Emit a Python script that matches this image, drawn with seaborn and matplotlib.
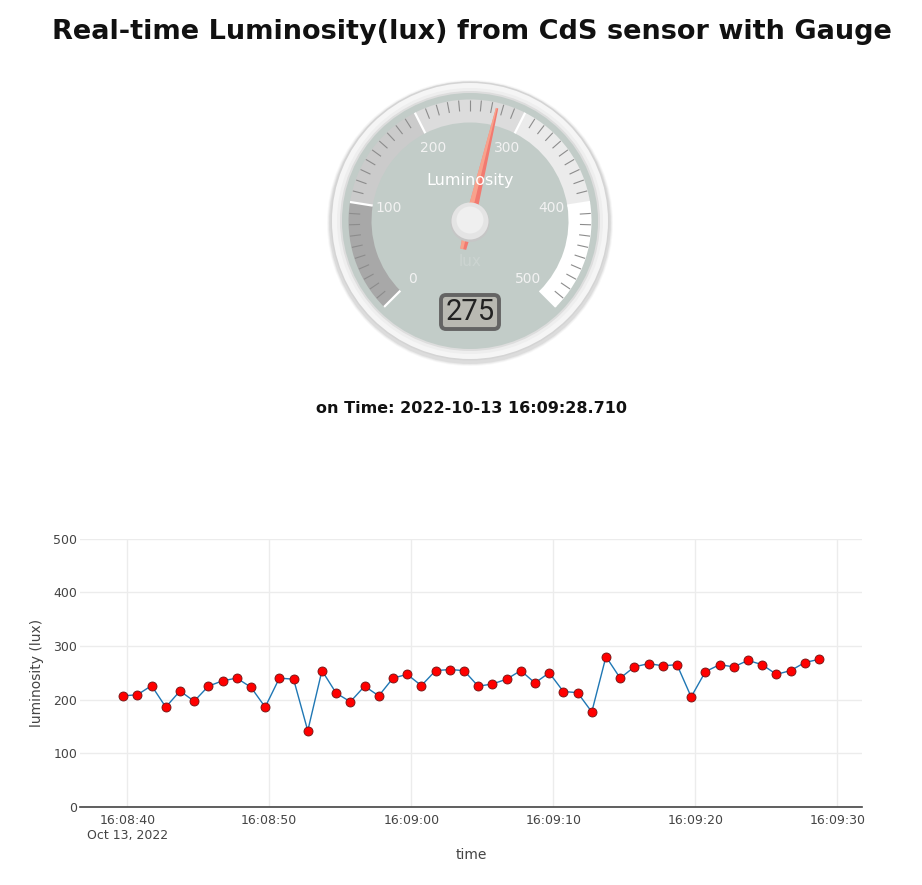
import numpy as np
import pandas as pd
import seaborn as sns
import matplotlib
matplotlib.use("Agg")
import matplotlib.pyplot as plt
from matplotlib.patches import Wedge, Circle, FancyBboxPatch, Polygon

# ---------------- data ----------------
date_str = "2022-10-13"
time_strs = [
    "16:08:39.710", "16:08:40.710", "16:08:41.710", "16:08:42.710", "16:08:43.710",
    "16:08:44.710", "16:08:45.710", "16:08:46.710", "16:08:47.710", "16:08:48.710",
    "16:08:49.710", "16:08:50.710", "16:08:51.710", "16:08:52.710", "16:08:53.710",
    "16:08:54.710", "16:08:55.710", "16:08:56.710", "16:08:57.710", "16:08:58.710",
    "16:08:59.710", "16:09:00.710", "16:09:01.710", "16:09:02.710", "16:09:03.710",
    "16:09:04.710", "16:09:05.710", "16:09:06.710", "16:09:07.710", "16:09:08.710",
    "16:09:09.710", "16:09:10.710", "16:09:11.710", "16:09:12.710", "16:09:13.710",
    "16:09:14.710", "16:09:15.710", "16:09:16.710", "16:09:17.710", "16:09:18.710",
    "16:09:19.710", "16:09:20.710", "16:09:21.710", "16:09:22.710", "16:09:23.710",
    "16:09:24.710", "16:09:25.710", "16:09:26.710", "16:09:27.710", "16:09:28.710",
]
luminosity = [
    207, 209, 226, 186, 216, 197, 225, 235, 240, 223,
    186, 240, 238, 142, 254, 212, 196, 225, 207, 240,
    247, 226, 254, 256, 254, 225, 229, 238, 254, 231,
    250, 215, 213, 177, 280, 240, 261, 267, 263, 265,
    205, 252, 265, 261, 273, 265, 247, 254, 269, 275,
]
x_tick_times = ["16:08:40", "16:08:50", "16:09:00", "16:09:10", "16:09:20", "16:09:30"]
x_tick_labels = ["16:08:40\nOct 13, 2022", "16:08:50", "16:09:00", "16:09:10", "16:09:20", "16:09:30"]
y_ticks = [0, 100, 200, 300, 400, 500]

gauge_edges = [0, 100, 200, 300, 400, 500]
gauge_band_colors = ["#a8a8a8", "#cbcbcb", "#dcdcdc", "#ebebeb", "#ffffff"]
gauge_labels = [0, 100, 200, 300, 400, 500]

title = "Real-time Luminosity(lux) from CdS sensor with Gauge"

# ---------------- figure ----------------
W, H = 922, 885
fig = plt.figure(figsize=(W / 100, H / 100), dpi=100)
fig.patch.set_facecolor("white")

def fx(px):
    return px / W

def fy(py):
    return 1 - py / H

head_font = ["DejaVu Sans"]
fig.text(fx(472), fy(32), title, ha="center", va="center", fontsize=19.5,
         fontweight="bold", family=head_font, color="#111111")

times = pd.to_datetime([f"{date_str} {t}" for t in time_strs])
last_time = times[-1].strftime("%Y-%m-%d %H:%M:%S.%f")[:-3]
fig.text(fx(471), fy(408), f"on Time: {last_time}", ha="center", va="center",
         fontsize=11.5, fontweight="bold", family=head_font, color="#111111")

# ---------------- gauge ----------------
gax = fig.add_axes([fx(320), fy(370), 300 / W, 300 / H])
gax.set_xlim(-150, 150)
gax.set_ylim(-149, 151)
gax.set_aspect("equal")
gax.axis("off")

gmin, gmax = gauge_edges[0], gauge_edges[-1]

def ang(v):
    return 225 - 270 * (v - gmin) / (gmax - gmin)

# shadow + bezel
for r, a in [(143, 0.07), (142, 0.12), (141, 0.18)]:
    gax.add_patch(Circle((0, -2), r, color="#9a9a9a", alpha=a, lw=0))
gax.add_patch(Circle((0, 0), 139.5, color="#d4d4d4", lw=0))
gax.add_patch(Circle((0, 0), 138, color="#f5f5f5", lw=0))
gax.add_patch(Circle((0, 0), 133, color="#eeeeee", lw=0))
gax.add_patch(Circle((0, 0), 130, color="#dddddd", lw=0))
gax.add_patch(Circle((0, 0), 128, color="#c2ccc8", lw=0))

# bands
for lo, hi, c in zip(gauge_edges[:-1], gauge_edges[1:], gauge_band_colors):
    gax.add_patch(Wedge((0, 0), 121.5, ang(hi), ang(lo), width=23, color=c, lw=0))

# ticks
for v in range(gmin, gmax + 1, 10):
    t = np.deg2rad(ang(v))
    if v % 100 == 0:
        r0, r1, col, lw = 98.5, 121.5, "#ffffff", 1.6
    else:
        r0, r1, col, lw = 110, 121, "#8c8c8c", 0.8
    gax.plot([r0 * np.cos(t), r1 * np.cos(t)], [r0 * np.sin(t), r1 * np.sin(t)],
             color=col, lw=lw, solid_capstyle="butt")

for v in gauge_labels:
    t = np.deg2rad(ang(v))
    gax.text(82 * np.cos(t), 82 * np.sin(t), str(v), ha="center", va="center",
             fontsize=10, color="#f2f2f2", family="DejaVu Sans")

gax.text(0, 41, "Luminosity", ha="center", va="center", fontsize=11.5,
         color="white", family="DejaVu Sans")
gax.text(0, -40, "lux", ha="center", va="center", fontsize=11,
         color="#ccd4d1", family="DejaVu Sans")

# needle
gauge_value = luminosity[-1]
t = np.deg2rad(ang(gauge_value))
d = np.array([np.cos(t), np.sin(t)])
n = np.array([-np.sin(t), np.cos(t)])
tip = d * 116
mid = d * 6
tail = -d * 29
needle = [tip + n * 1.2, mid + n * 5.0, tail + n * 3.0, tail - n * 3.0, mid - n * 5.0, tip - n * 1.2]
gax.add_patch(Polygon(needle, closed=True, color="#f27a70", lw=0))
gax.add_patch(Polygon([tip + n * 1.2, mid + n * 5.0, tail + n * 3.0, tail, tip], closed=True,
                      color="#fbb096", lw=0, alpha=0.75))

# knob
gax.add_patch(Circle((0, -1.5), 19.5, color="#c6c6c6", lw=0))
gax.add_patch(Circle((0, 0), 18.5, color="#e4e4e4", lw=0))
gax.add_patch(Circle((0, 1), 13.5, color="#efefef", lw=0))

# LCD
gax.add_patch(FancyBboxPatch((-29, -108), 58, 34,
                             boxstyle="round,pad=0,rounding_size=5",
                             fc="#b9b9b2", ec="#646464", lw=2.8))
gax.text(0, -91, str(gauge_value), ha="center", va="center", fontsize=21,
         color="#222222", family="Roboto", fontweight="normal")

# ---------------- line chart ----------------
ax = fig.add_axes([fx(80), fy(807), 782 / W, 268.5 / H])
df = pd.DataFrame({"time": times, "luminosity (lux)": luminosity})
sns.lineplot(data=df, x="time", y="luminosity (lux)", ax=ax, color="#1f77b4",
             lw=1.0, marker="o", markersize=6.5, markerfacecolor="#ff0000",
             markeredgecolor="#6e1414", markeredgewidth=0.6, zorder=3)

ax.set_ylim(0, 500)
ax.set_xlim(pd.Timestamp(f"{date_str} 16:08:36.67"), pd.Timestamp(f"{date_str} 16:09:31.74"))
ax.set_yticks(y_ticks)
ax.set_yticklabels([str(v) for v in y_ticks])
ax.set_xticks(pd.to_datetime([f"{date_str} {t}" for t in x_tick_times]))
ax.set_xticklabels(x_tick_labels, multialignment="center")

for s in ["top", "right", "left"]:
    ax.spines[s].set_visible(False)
ax.spines["bottom"].set_color("#444444")
ax.spines["bottom"].set_linewidth(1.2)
ax.grid(True, color="#ececec", lw=1)
ax.set_axisbelow(True)
ax.tick_params(axis="both", length=0, labelsize=9, labelcolor="#444444")
ax.tick_params(axis="x", pad=5)
ax.tick_params(axis="y", pad=2)
for lab in ax.get_xticklabels() + ax.get_yticklabels():
    lab.set_family("DejaVu Sans")

ax.set_xlabel("time", fontsize=10, color="#444444", family="DejaVu Sans")
ax.set_ylabel("luminosity (lux)", fontsize=10, color="#444444", family="DejaVu Sans")
ax.xaxis.set_label_coords(0.5, (807 - 855) / 268.5)
ax.yaxis.set_label_coords((37 - 80) / 782, 0.5)
ax.xaxis.label.set_va("center")
ax.yaxis.label.set_va("center")

fig.savefig("out.png", dpi=100, facecolor="white")
